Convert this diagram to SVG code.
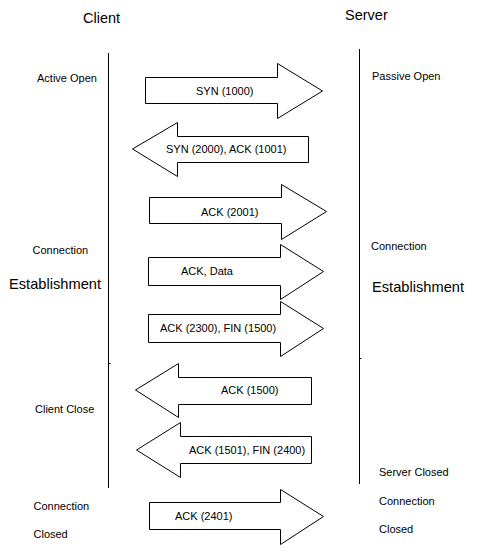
<svg xmlns="http://www.w3.org/2000/svg" width="488" height="551" viewBox="0 0 488 551">
<style>
.bg{fill:#fff}
.life{stroke:#000;stroke-width:1;fill:none}
.arrow{fill:#fff;stroke:#000;stroke-width:1;stroke-linejoin:miter}
.t{font-family:"Liberation Sans",Arial,sans-serif;font-size:11px;fill:#000}
.big{font-family:"Liberation Sans",Arial,sans-serif;font-size:14.5px;fill:#000}
.title{font-family:"Liberation Sans",Arial,sans-serif;font-size:14.5px;fill:#000}
</style>
<rect class="bg" x="0" y="0" width="488" height="551"/>
<g id="client">
<text class="title" x="83" y="22.5">Client</text>
<line class="life" x1="108.5" y1="53" x2="108.5" y2="488"/>
<line class="life" x1="108.5" y1="363.5" x2="110.5" y2="363.5"/>
</g>
<g id="server">
<text class="title" x="345" y="20">Server</text>
<line class="life" x1="359.5" y1="49" x2="359.5" y2="484"/>
<line class="life" x1="359.5" y1="358.5" x2="361.5" y2="358.5"/>
</g>
<g id="labels">
<text class="t" x="37" y="81.5">Active Open</text>
<text class="t" x="372" y="80">Passive Open</text>
<text class="t" x="32.5" y="254">Connection</text>
<text class="big" x="9" y="289" textLength="92" lengthAdjust="spacingAndGlyphs">Establishment</text>
<text class="t" x="371" y="250">Connection</text>
<text class="big" x="372" y="292" textLength="92" lengthAdjust="spacingAndGlyphs">Establishment</text>
<text class="t" x="35" y="413">Client Close</text>
<text class="t" x="379" y="476">Server Closed</text>
<text class="t" x="33.5" y="510">Connection</text>
<text class="t" x="33.5" y="538">Closed</text>
<text class="t" x="379" y="505">Connection</text>
<text class="t" x="379" y="533">Closed</text>
</g>
<g id="connectors">
<g id="m1"><polygon class="arrow" points="145.5,77.5 277.5,77.5 277.5,63.5 322.5,91 277.5,118.5 277.5,103.5 145.5,103.5"/><text class="t" x="196" y="95">SYN (1000)</text></g>
<g id="m2"><polygon class="arrow" points="308.5,136.5 177.5,136.5 177.5,122.5 132.5,149 177.5,176.5 177.5,162.5 308.5,162.5"/><text class="t" x="166" y="153">SYN (2000), ACK (1001)</text></g>
<g id="m3"><polygon class="arrow" points="149.5,197.5 281.5,197.5 281.5,184.5 326.5,211.5 281.5,239.5 281.5,223.5 149.5,223.5"/><text class="t" x="201" y="215.5">ACK (2001)</text></g>
<g id="m4"><polygon class="arrow" points="148.5,257.5 280.5,257.5 280.5,244.5 323.5,271.5 280.5,299.5 280.5,285.5 148.5,285.5"/><text class="t" x="181" y="275">ACK, Data</text></g>
<g id="m5"><polygon class="arrow" points="148.5,314.5 280.5,314.5 280.5,301.5 323.5,328.5 280.5,356.5 280.5,342.5 148.5,342.5"/><text class="t" x="160" y="332">ACK (2300), FIN (1500)</text></g>
<g id="m6"><polygon class="arrow" points="311.5,377.5 178.5,377.5 178.5,363.5 135.5,390 178.5,417.5 178.5,404.5 311.5,404.5"/><text class="t" x="221" y="394">ACK (1500)</text></g>
<g id="m7"><polygon class="arrow" points="311.5,436.5 180.5,436.5 180.5,422.5 136.5,450 180.5,477.5 180.5,463.5 311.5,463.5"/><text class="t" x="189" y="454">ACK (1501), FIN (2400)</text></g>
<g id="m8"><polygon class="arrow" points="149.5,502.5 280.5,502.5 280.5,489.5 323.5,516.5 280.5,544.5 280.5,529.5 149.5,529.5"/><text class="t" x="175" y="520">ACK (2401)</text></g>
</g>
</svg>
